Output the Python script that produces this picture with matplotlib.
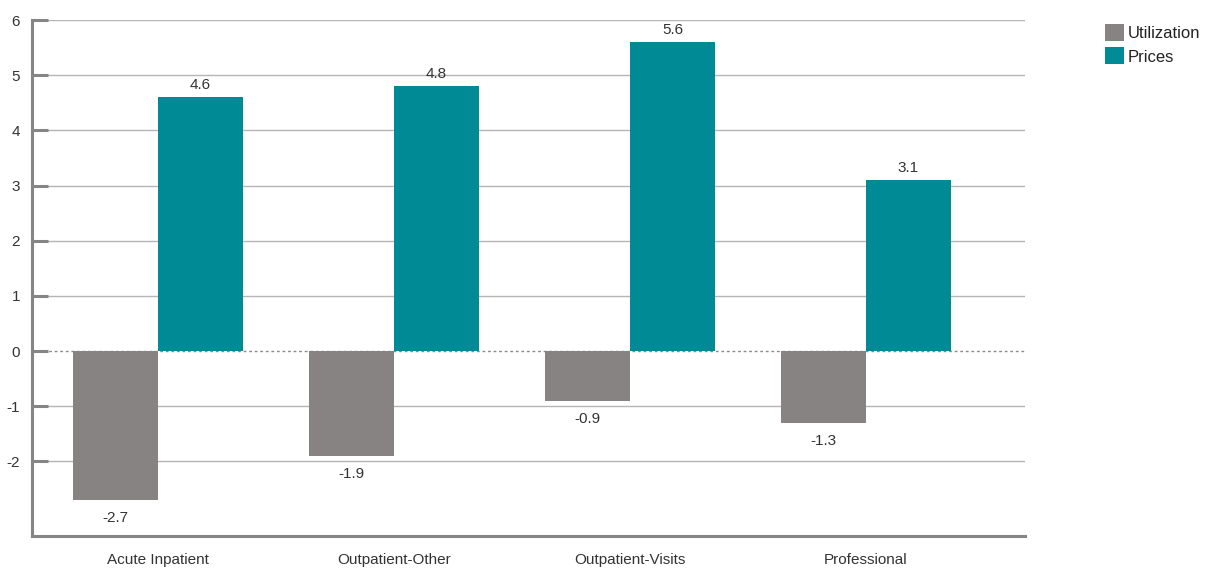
import matplotlib.pyplot as plt
import numpy as np

plt.rcParams['font.family'] = ['Liberation Sans', 'DejaVu Sans']

categories = ['Acute Inpatient', 'Outpatient-Other', 'Outpatient-Visits', 'Professional']
utilization = [-2.7, -1.9, -0.9, -1.3]
prices = [4.6, 4.8, 5.6, 3.1]
y_ticks = [6, 5, 4, 3, 2, 1, 0, -1, -2]

gray = '#878382'
teal = '#008a96'
text_col = '#333333'

fig = plt.figure(figsize=(12.09, 5.72), dpi=100)
ax = fig.add_axes([32 / 1209, 1 - 536 / 572, (1025 - 32) / 1209, (536 - 20) / 572])

x = np.arange(len(categories))
w = 0.36
b1 = ax.bar(x - w / 2, utilization, w, color=gray, label='Utilization', zorder=2)
b2 = ax.bar(x + w / 2, prices, w, color=teal, label='Prices', zorder=2)

# підписи значень
for bars, vals in [(b1, utilization), (b2, prices)]:
    for rect, v in zip(bars, vals):
        cx = rect.get_x() + rect.get_width() / 2
        if v >= 0:
            ax.annotate(f"{v}", (cx, v), xytext=(0, 3.5), textcoords='offset points',
                        ha='center', va='bottom', fontsize=11, color=text_col)
        else:
            ax.annotate(f"{v}", (cx, v), xytext=(0, -8), textcoords='offset points',
                        ha='center', va='top', fontsize=11, color=text_col)

ax.set_xlim(-0.534, 3.674)
ax.set_ylim(-3.353, 6)
ax.set_yticks(y_ticks)
ax.set_yticklabels([str(t) for t in y_ticks])
ax.set_xticks(x)
ax.set_xticklabels(categories)

ax.tick_params(axis='y', direction='in', length=11.5, width=2.2, color='#858585',
               pad=8.5, labelsize=11, labelcolor=text_col)
ax.tick_params(axis='x', length=0, pad=12, labelsize=11, labelcolor=text_col)

ax.set_axisbelow(True)
ax.yaxis.grid(True, color='#b5b5b5', linewidth=1)
for line, t in zip(ax.get_ygridlines(), y_ticks):
    if t == 0:
        line.set_linestyle((0, (2, 2)))
        line.set_color('#8a8a8a')
        line.set_zorder(3)

for s in ['top', 'right']:
    ax.spines[s].set_visible(False)
for s in ['left', 'bottom']:
    ax.spines[s].set_color('#858585')
    ax.spines[s].set_linewidth(2.2)

fig.legend(loc='upper left', bbox_to_anchor=(1097 / 1209, 1 - 16 / 572), frameon=False,
           fontsize=12, handlelength=1.1, handleheight=1.2, handletextpad=0.25,
           labelspacing=0.35, borderpad=0, labelcolor='#222222')

fig.savefig('out.png', dpi=100)
